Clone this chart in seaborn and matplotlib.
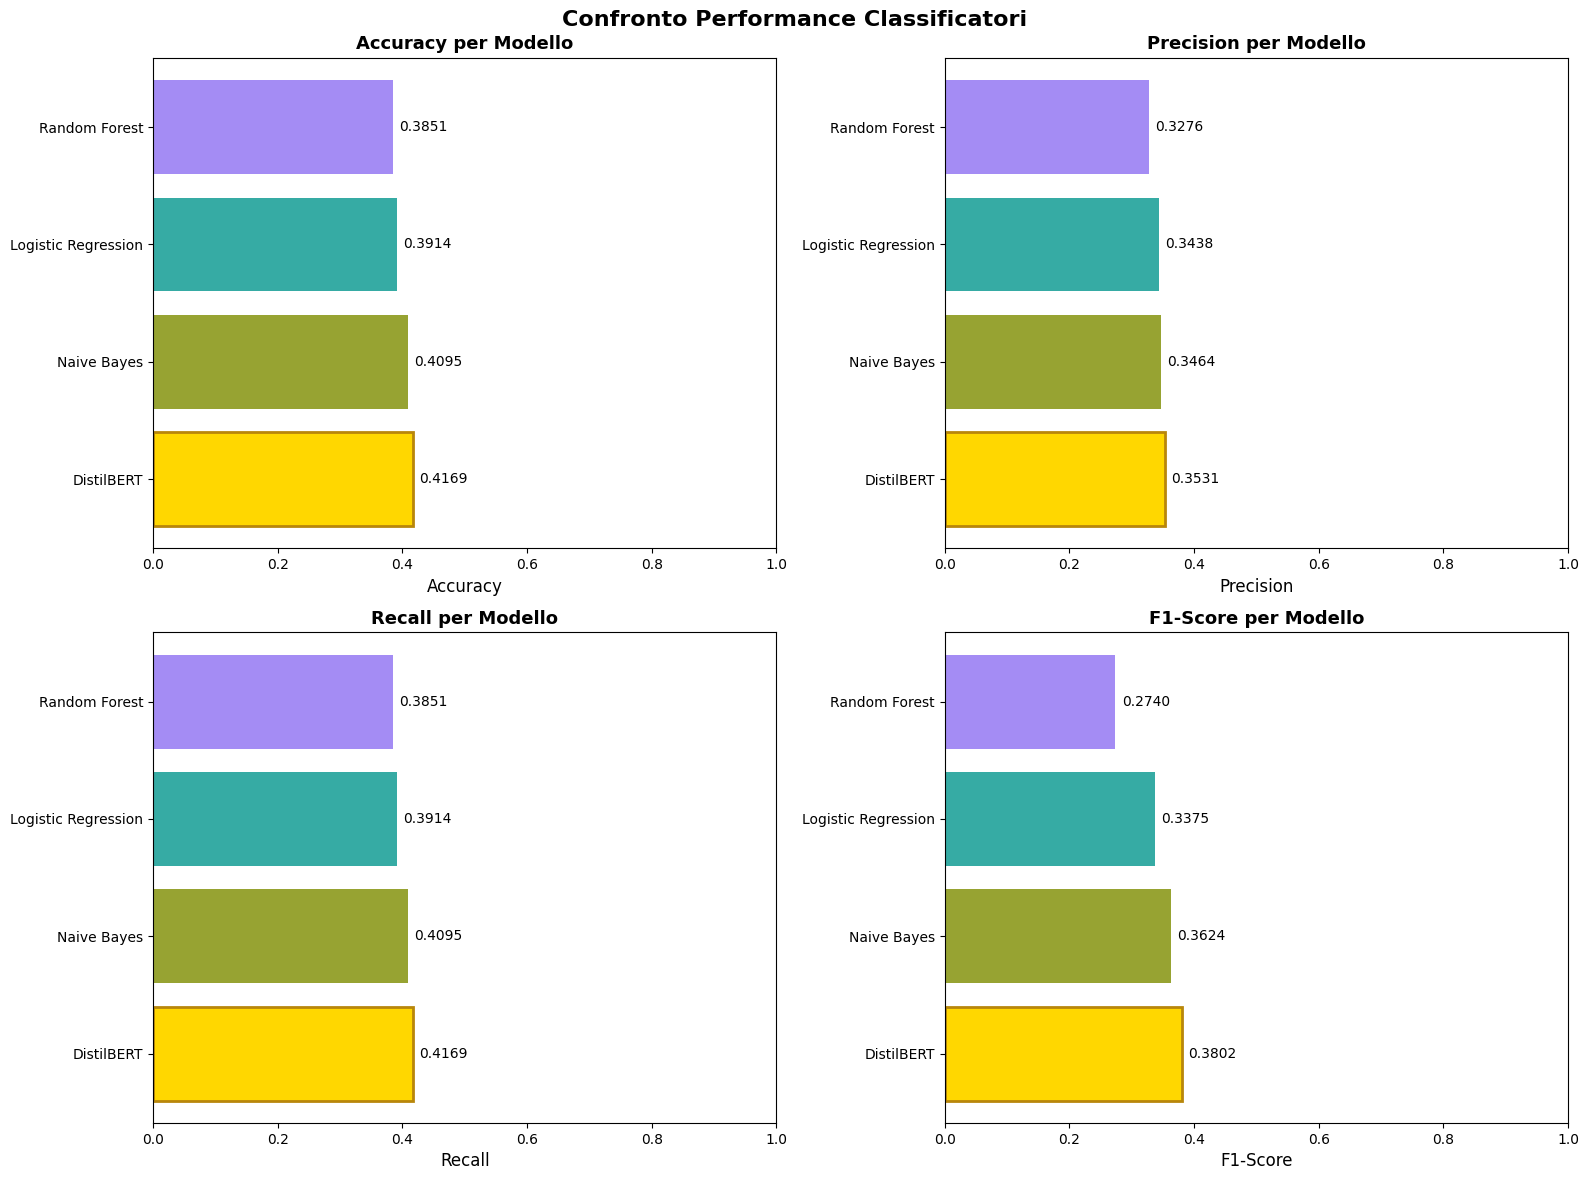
import matplotlib
matplotlib.use("Agg")
import matplotlib.pyplot as plt
import seaborn as sns
import pandas as pd

models = ["Random Forest", "Logistic Regression", "Naive Bayes", "DistilBERT"]
accuracy = [0.3851, 0.3914, 0.4095, 0.4169]
precision = [0.3276, 0.3438, 0.3464, 0.3531]
recall = [0.3851, 0.3914, 0.4095, 0.4169]
f1 = [0.2740, 0.3375, 0.3624, 0.3802]
metrics = ["Accuracy", "Precision", "Recall", "F1-Score"]
values = [accuracy, precision, recall, f1]

palette = {
    "Random Forest": (0.643, 0.550, 0.956),
    "Logistic Regression": (0.210, 0.671, 0.642),
    "Naive Bayes": (0.594, 0.641, 0.195),
    "DistilBERT": "#FFD700",
}

fig, axes = plt.subplots(2, 2, figsize=(15.89, 11.8), dpi=100)
for ax, metric, vals in zip(axes.flat, metrics, values):
    df = pd.DataFrame({"Modello": models, metric: vals})
    sns.barplot(data=df, y="Modello", x=metric, hue="Modello", palette=palette,
                order=models, hue_order=models, legend=False, ax=ax, orient="h",
                saturation=1, width=0.8)
    for patch, m in zip(ax.patches, models):
        if m == "DistilBERT":
            patch.set_edgecolor("#B8860B")
            patch.set_linewidth(2)
        else:
            patch.set_edgecolor("none")
    for i, v in enumerate(vals):
        ax.text(v + 0.01, i, f"{v:.4f}", va="center", ha="left", fontsize=10)
    ax.set_xlim(0, 1)
    ax.set_ylim(3.59, -0.59)
    ax.set_title(f"{metric} per Modello", fontsize=13, fontweight="bold")
    ax.set_xlabel(metric, fontsize=12)
    ax.set_ylabel("")
    ax.tick_params(labelsize=10)

fig.suptitle("Confronto Performance Classificatori", fontsize=16, fontweight="bold",
             y=0.983, va="center")
fig.subplots_adjust(left=0.0963, right=0.9868, top=0.951, bottom=0.0483, wspace=0.27, hspace=0.171)
fig.savefig("out.png", dpi=100)
